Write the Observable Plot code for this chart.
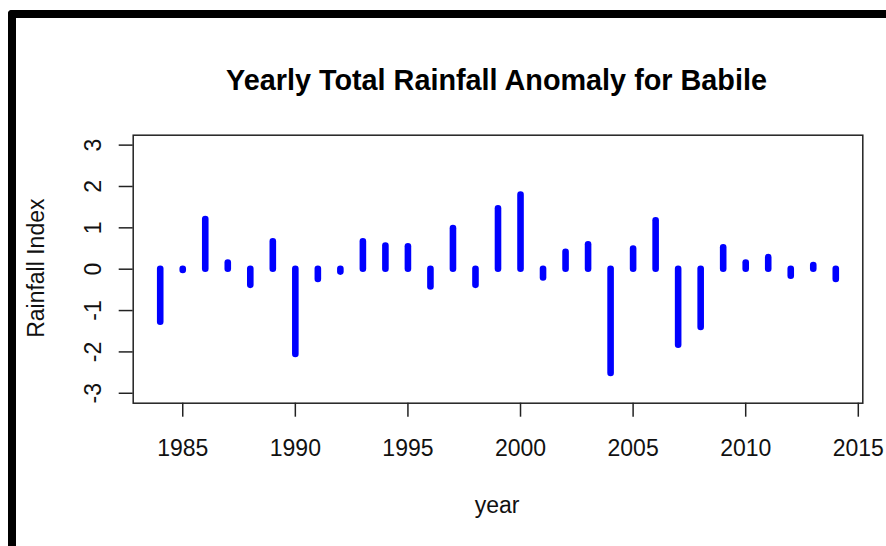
<!DOCTYPE html>
<html><head><meta charset="utf-8">
<script src="https://cdn.jsdelivr.net/npm/d3@7"></script>
<script src="https://cdn.jsdelivr.net/npm/@observablehq/plot@0.6"></script>
<style>
html,body{margin:0;padding:0;background:#fff;}
#wrap{position:relative;width:886px;height:546px;overflow:hidden;}
#wrap svg{position:absolute;left:0;top:0;}
#border{position:absolute;left:8px;top:10px;right:0;bottom:0;border-top:8px solid #000;border-left:8px solid #000;border-top-left-radius:4px;pointer-events:none;z-index:2;}
</style></head><body>
<div id="wrap"><div id="border"></div></div>
<script>
const years = [1984,1985,1986,1987,1988,1989,1990,1991,1992,1993,1994,1995,1996,1997,1998,1999,2000,2001,2002,2003,2004,2005,2006,2007,2008,2009,2010,2011,2012,2013,2014];
const anomalies = [-1.28,-0.03,1.20,0.15,-0.39,0.66,-2.06,-0.25,-0.07,0.66,0.56,0.54,-0.43,0.98,-0.39,1.46,1.79,-0.21,0.41,0.59,-2.52,0.49,1.17,-1.84,-1.41,0.52,0.15,0.28,-0.17,0.09,-0.25];
const xTicks = [1985,1990,1995,2000,2005,2010,2015];
const yTicks = [-3,-2,-1,0,1,2,3];
const titleText = "Yearly Total Rainfall Anomaly for Babile";
const xLabel = "year";
const yLabel = "Rainfall Index";

const data = years.map((y, i) => ({year: y, value: anomalies[i]}));
const font = "'Liberation Sans', Arial, sans-serif";

const chart = Plot.plot({
  width: 886, height: 546,
  marginLeft: 132.7, marginRight: 23.7, marginTop: 134.7, marginBottom: 143.3,
  style: {fontFamily: font, color: "#000", background: "transparent", overflow: "visible"},
  x: {domain: [1982.8, 2015.2]},
  y: {domain: [-3.24, 3.24]},
  marks: [
    Plot.ruleX(data, {x: "year", y1: 0, y2: "value", stroke: "#0000ff", strokeWidth: 6.6, strokeLinecap: "round"}),
    Plot.frame({stroke: "#222", strokeWidth: 1.5}),
    Plot.axisX(xTicks, {tickSize: 14, tickPadding: 38.3, fontSize: 23, lineAnchor: "bottom", tickFormat: d => String(d), stroke: "#222", strokeWidth: 1.5, fill: "#111", label: null}),
    Plot.axisY(yTicks, {tickSize: 14, stroke: "#222", strokeWidth: 1.5, fill: "none", label: null}),
    Plot.axisY(yTicks, {tickSize: 0, tickPadding: 32.7, fontSize: 23, rotate: -90, textAnchor: "middle", lineAnchor: "bottom", tickFormat: d => String(d), fill: "#111", label: null}),
    Plot.text([titleText], {frameAnchor: "top", dy: -45.5, dx: -1.5, lineAnchor: "bottom", textAnchor: "middle", fontSize: 28.8, fontWeight: "bold", fill: "#000"}),
    Plot.text([xLabel], {frameAnchor: "bottom", dy: 109.3, dx: -1, lineAnchor: "bottom", textAnchor: "middle", fontSize: 23, fill: "#111"}),
    Plot.text([yLabel], {frameAnchor: "left", dx: -89.7, dy: -1, rotate: -90, lineAnchor: "bottom", textAnchor: "middle", fontSize: 23, fill: "#111"})
  ]
});
document.getElementById("wrap").insertBefore(chart, document.getElementById("border"));
</script>
</body></html>
